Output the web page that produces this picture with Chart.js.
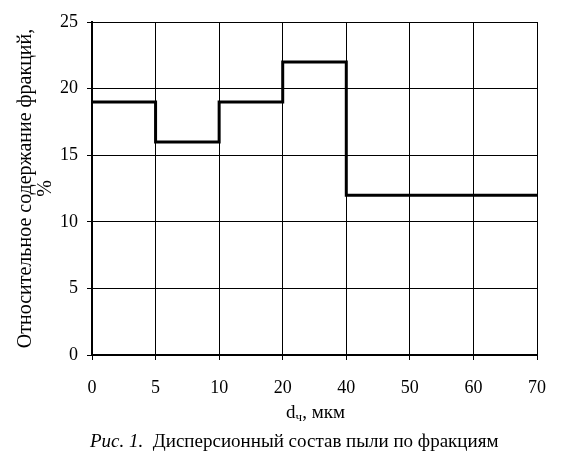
<!DOCTYPE html>
<html>
<head>
<meta charset="utf-8">
<script src="https://cdn.jsdelivr.net/npm/chart.js@4"></script>
<style>
  body { margin: 0; background: #fff; }
  #wrap { position: relative; width: 563px; height: 467px; }
  .txt { position: absolute; font-family: "Liberation Serif", "Times New Roman", serif; font-size: 19px; color: #000; white-space: nowrap; }
  #xtitle { left: 0; width: 631px; top: 401px; text-align: center; }
  #caption { left: 90px; top: 430px; }
  sub { font-size: 13px; vertical-align: -3px; }
</style>
</head>
<body>
<div id="wrap">
  <canvas id="myChart" width="563" height="467"></canvas>
  <div class="txt" id="xtitle">d<sub>ч</sub>, мкм</div>
  <div class="txt" id="caption"><i>Рис. 1.</i>&nbsp; Дисперсионный состав пыли по фракциям</div>
</div>
<script>
// размеры частиц, мкм (подписи оси X)
var sizes = ['0', '5', '10', '20', '40', '50', '60', '70'];
// содержание фракции, % (значение держится до следующей точки)
var share = [19, 16, 19, 22, 12, 12, 12, 12];

var ctx = document.getElementById('myChart').getContext('2d');

var myChart = new Chart(ctx, {
  type: 'line',
  data: {
    labels: sizes,
    datasets: [{
      data: share,
      stepped: 'before',
      borderColor: '#000',
      borderWidth: 3,
      pointRadius: 0,
      fill: false
    }]
  },
  options: {
    responsive: false,
    animation: false,
    layout: {
      padding: { top: 22, right: 22, left: 0, bottom: 0 }
    },
    plugins: {
      legend: { display: false },
      tooltip: { enabled: false }
    },
    scales: {
      x: {
        offset: false,
        grid: { color: '#000', lineWidth: 1, tickLength: 5 },
        border: { color: '#000', width: 2 },
        ticks: {
          color: '#000',
          padding: 17,
          maxRotation: 0,
          font: { family: 'Liberation Serif', size: 18 }
        },
        afterFit: function (scale) { scale.height = 112; }
      },
      y: {
        min: 0,
        max: 25,
        grid: { color: '#000', lineWidth: 1, tickLength: 5 },
        border: { color: '#000', width: 2 },
        ticks: {
          stepSize: 5,
          color: '#000',
          padding: 9,
          font: { family: 'Liberation Serif', size: 18 }
        },
        title: {
          display: true,
          text: ['Относительное содержание фракций,', '%'],
          color: '#000',
          padding: { top: 16, bottom: 0 },
          font: { family: 'Liberation Serif', size: 20, lineHeight: 1.0 }
        },
        afterFit: function (scale) { scale.width = 92; }
      }
    }
  }
});
</script>
</body>
</html>
